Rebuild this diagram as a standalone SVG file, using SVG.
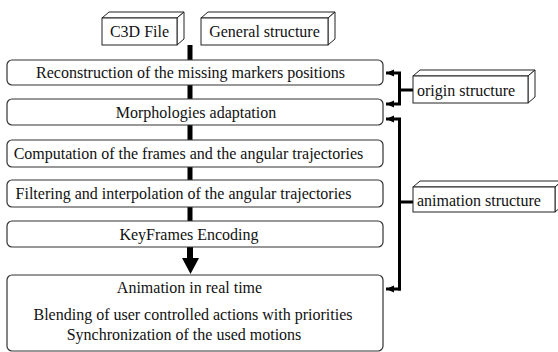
<svg xmlns="http://www.w3.org/2000/svg" width="558" height="352" viewBox="0 0 558 352">
<defs>
<style>
.box{fill:#fff;stroke:#333;stroke-width:1.2}
.cube{fill:#fff;stroke:#222;stroke-width:1}
.t{font-family:"Liberation Serif","Times New Roman",serif;font-size:16px;fill:#111}
.c{text-anchor:middle}
.bar{fill:#000}
.conn{fill:none;stroke:#000;stroke-width:3}
</style>
<marker id="ah" viewBox="0 0 8 8" refX="8" refY="4" markerWidth="8" markerHeight="8" markerUnits="userSpaceOnUse" orient="auto">
<path d="M0,0.5 L8,4 L0,7.5 Z" fill="#000"/>
</marker>
</defs>
<rect width="558" height="352" fill="#fff"/>

<g id="c3d">
<path class="cube" d="M102,18 L109,12 L184,12 L177,18 Z"/>
<path class="cube" d="M177,18 L184,12 L184,39 L177,45 Z"/>
<rect class="cube" x="102" y="18" width="75" height="27"/>
<text class="t c" x="139.5" y="37">C3D File</text>
</g>
<g id="general">
<path class="cube" d="M201,18 L208,12 L335,12 L328,18 Z"/>
<path class="cube" d="M328,18 L335,12 L335,39 L328,45 Z"/>
<rect class="cube" x="201" y="18" width="127" height="27"/>
<text class="t c" x="264.5" y="37">General structure</text>
</g>

<g id="connectors">
<rect class="bar" x="187.5" y="45" width="5" height="15"/>
<rect class="bar" x="187.5" y="85" width="5" height="14"/>
<rect class="bar" x="187.5" y="125" width="5" height="15"/>
<rect class="bar" x="187.5" y="167" width="5" height="13"/>
<rect class="bar" x="187.5" y="207" width="5" height="14"/>
<rect class="bar" x="187" y="247" width="6" height="12"/>
<path class="bar" d="M182,258 L199,258 L190.5,274 Z"/>
<path class="conn" d="M413,90 L399.5,90"/>
<path class="conn" d="M399.5,72.5 L399.5,104.5"/>
<path class="conn" d="M401,73 L386,73" marker-end="url(#ah)"/>
<path class="conn" d="M401,104 L386,104" marker-end="url(#ah)"/>
<path class="conn" d="M413,202 L399.5,202"/>
<path class="conn" d="M399.5,118.5 L399.5,290.5"/>
<path class="conn" d="M401,119 L386,119" marker-end="url(#ah)"/>
<path class="conn" d="M401,289 L386,289" marker-end="url(#ah)"/>
</g>

<g id="n1">
<rect class="box" x="7" y="60" width="376" height="25" rx="5"/>
<text class="t c" x="190.5" y="78">Reconstruction of the missing markers positions</text>
</g>
<g id="n2">
<rect class="box" x="7" y="99" width="376" height="26" rx="5"/>
<text class="t c" x="196" y="117.5">Morphologies adaptation</text>
</g>
<g id="n3">
<rect class="box" x="7" y="140" width="376" height="27" rx="5"/>
<text class="t c" x="188.5" y="158.5">Computation of the frames and the angular trajectories</text>
</g>
<g id="n4">
<rect class="box" x="7" y="180" width="376" height="27" rx="5"/>
<text class="t c" x="183.5" y="198.5">Filtering and interpolation of the angular trajectories</text>
</g>
<g id="n5">
<rect class="box" x="7" y="221" width="376" height="26" rx="5"/>
<text class="t c" x="189" y="240">KeyFrames Encoding</text>
</g>
<g id="n6">
<rect class="box" x="7" y="275" width="376" height="76" rx="5"/>
<text class="t c" x="189.5" y="293">Animation in real time</text>
<text class="t c" x="193" y="320">Blending of user controlled actions with priorities</text>
<text class="t c" x="184" y="340">Synchronization of the used motions</text>
</g>

<g id="origin">
<path class="cube" d="M413,76 L420,70 L535,70 L528,76 Z"/>
<path class="cube" d="M528,76 L535,70 L535,97 L528,103 Z"/>
<rect class="cube" x="413" y="76" width="115" height="27"/>
<text class="t" x="417" y="96">origin structure</text>
</g>
<g id="animation">
<path class="cube" d="M413,187 L420,181 L562,181 L555,187 Z"/>
<path class="cube" d="M555,187 L562,181 L562,206 L555,212 Z"/>
<rect class="cube" x="413" y="187" width="142" height="25"/>
<text class="t" x="417" y="206">animation structure</text>
</g>
</svg>
